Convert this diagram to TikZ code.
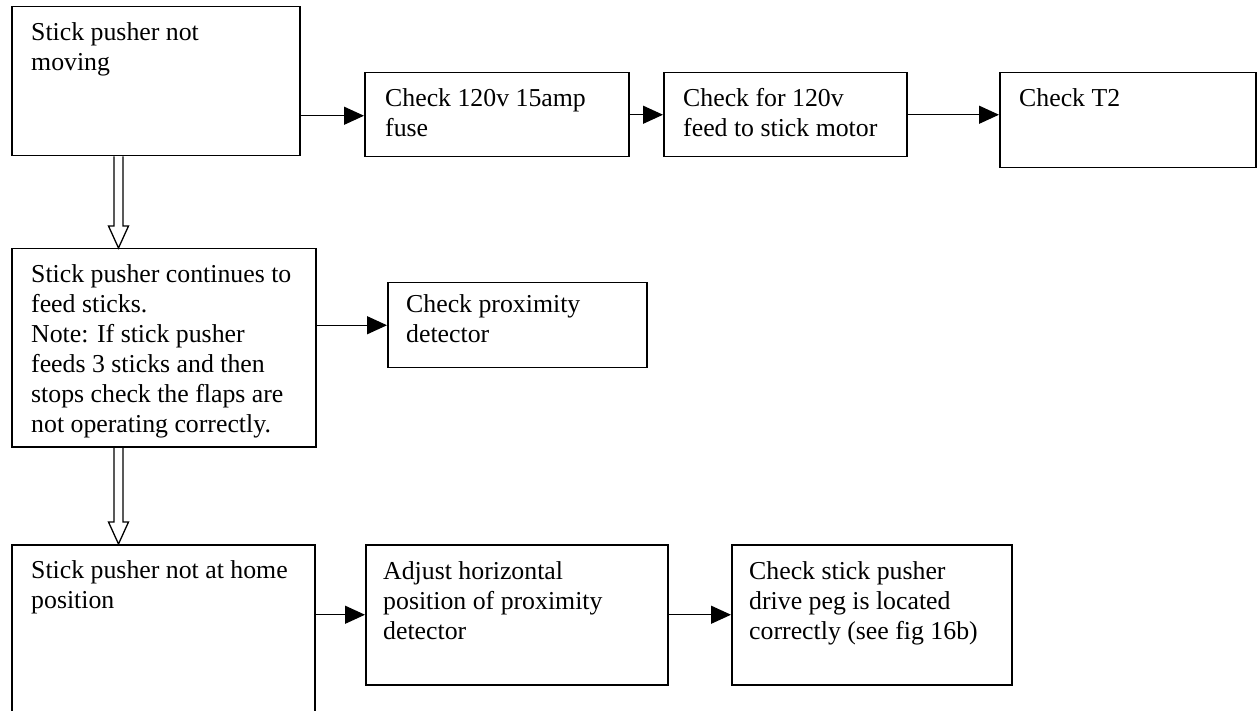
\documentclass[tikz,border=0pt]{standalone}
\usepackage{fontspec}
\setmainfont{Liberation Serif}
\usetikzlibrary{arrows.meta,calc}
\begin{document}
\begin{tikzpicture}[x=1pt,y=1pt,
  box/.style={draw=black, line width=1.5pt, anchor=north west, inner sep=0pt},
  txt/.style={anchor=north west, inner sep=0pt, align=left, font=\fontsize{25.8pt}{30pt}\selectfont},
  arr/.style={line width=1.3pt, -{Triangle[length=20pt,width=18pt]}},
  hollow/.style={line width=1.3pt, line join=miter}]
\useasboundingbox (0,0) rectangle (1257,710);
\fill[white] (0,0) rectangle (1257,710);
\clip (0,0) rectangle (1257,710);

% boxes
\node[box, minimum width=288pt, minimum height=149pt] (b1) at (11,704) {};
\node[box, minimum width=264pt, minimum height=84pt] (b2) at (364,638) {};
\node[box, minimum width=243pt, minimum height=84pt] (b3) at (663,638) {};
\node[box, minimum width=256pt, minimum height=95pt] (b4) at (999,638) {};
\node[box, minimum width=304pt, minimum height=198pt] (b5) at (11,462) {};
\node[box, minimum width=259pt, minimum height=85pt] (b6) at (387,428) {};
\node[box, minimum width=303pt, minimum height=180pt] (b7) at (11,166) {};
\node[box, minimum width=302pt, minimum height=140pt] (b8) at (365,166) {};
\node[box, minimum width=280pt, minimum height=140pt] (b9) at (731,166) {};

% texts
\node[txt] (t1) at ([shift={(20pt,-16.5pt)}]b1.north west) {Stick pusher not\\moving};
\node[txt] (t2) at ([shift={(21pt,-16.5pt)}]b2.north west) {Check 120v 15amp\\fuse};
\node[txt] (t3) at ([shift={(20pt,-16.5pt)}]b3.north west) {Check for 120v\\feed to stick motor};
\node[txt] (t4) at ([shift={(20pt,-16.5pt)}]b4.north west) {Check T2};
\node[txt] (t5) at ([shift={(20pt,-16pt)}]b5.north west) {Stick pusher continues to\\feed sticks.\\Note: If stick pusher\\feeds 3 sticks and then\\stops check the flaps are\\not operating correctly.};
\node[txt] (t6) at ([shift={(19pt,-12pt)}]b6.north west) {Check proximity\\detector};
\node[txt] (t7) at ([shift={(20pt,-16.5pt)}]b7.north west) {Stick pusher not at home\\position};
\node[txt] (t8) at ([shift={(18pt,-17pt)}]b8.north west) {Adjust horizontal\\position of proximity\\detector};
\node[txt] (t9) at ([shift={(18pt,-17pt)}]b9.north west) {Check stick pusher\\drive peg is located\\correctly (see fig 16b)};

% arrows
\draw[arr] ([yshift=-34.5pt]b1.east) -- ([yshift=-34.5pt]b1.east -| b2.west);
\draw[arr] (b2.east) -- (b3.west);
\draw[arr] (b3.east) -- (b3.east -| b4.west);
\draw[arr] (b5.east |- b6.west) -- (b6.west);
\draw[arr] (b7.east |- b8.west) -- (b8.west);
\draw[arr] (b8.east) -- (b9.west);

% hollow double arrows
\coordinate (da1) at ([xshift=107.5pt]b1.south west);
\coordinate (da1e) at (da1 |- b5.north);
\draw[hollow] ([xshift=-4.5pt]da1) -- ([shift={(-4.5pt,22pt)}]da1e) -- ([shift={(-10pt,22pt)}]da1e) -- (da1e) -- ([shift={(10pt,22pt)}]da1e) -- ([shift={(4.5pt,22pt)}]da1e) -- ([xshift=4.5pt]da1);
\coordinate (da2) at (da1 |- b5.south);
\coordinate (da2e) at (da1 |- b7.north);
\draw[hollow] ([xshift=-4.5pt]da2) -- ([shift={(-4.5pt,22pt)}]da2e) -- ([shift={(-10pt,22pt)}]da2e) -- (da2e) -- ([shift={(10pt,22pt)}]da2e) -- ([shift={(4.5pt,22pt)}]da2e) -- ([xshift=4.5pt]da2);
\end{tikzpicture}
\end{document}
